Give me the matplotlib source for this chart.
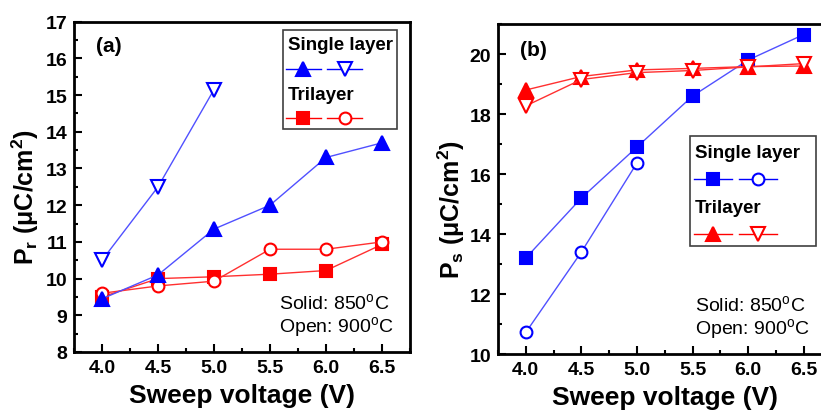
import numpy as np
import matplotlib.pyplot as plt
from matplotlib.lines import Line2D
from matplotlib.patches import Rectangle
from matplotlib.ticker import MultipleLocator

plt.rcParams['font.family'] = ['Liberation Sans', 'DejaVu Sans']
plt.rcParams['mathtext.fontset'] = 'custom'
plt.rcParams['mathtext.rm'] = 'Liberation Sans'
plt.rcParams['mathtext.bf'] = 'Liberation Sans:bold'

# sweep voltage (V)
volt = [4.0, 4.5, 5.0, 5.5, 6.0, 6.5]
volt_short = [4.0, 4.5, 5.0]

# (a) remanent polarization Pr (uC/cm2)
pr_single_850 = [9.45, 10.1, 11.35, 12.0, 13.3, 13.7]
pr_single_900 = [10.5, 12.5, 15.15]
pr_tri_850 = [9.5, 10.0, 10.05, 10.12, 10.22, 10.93]
pr_tri_900 = [9.6, 9.8, 9.93, 10.8, 10.8, 11.0]

# (b) saturation polarization Ps (uC/cm2)
ps_single_850 = [13.2, 15.2, 16.9, 18.6, 19.8, 20.65]
ps_single_900 = [10.72, 13.4, 16.37]
ps_tri_850 = [18.8, 19.25, 19.47, 19.52, 19.58, 19.6]
ps_tri_900 = [18.27, 19.15, 19.38, 19.45, 19.57, 19.68]

blue = '#0000ff'
red = '#ff0000'
line_blue = '#5050ff'
line_red = '#ff3030'

W, H = 821, 414
fig = plt.figure(figsize=(W / 100, H / 100), dpi=100)
ax1 = fig.add_axes([74 / W, 1 - 353 / H, 336 / W, 330.3 / H])
ax2 = fig.add_axes([498 / W, 1 - 355 / H, 333.6 / W, 330 / H])


def style(ax, ylim, major, minor):
    ax.set_xlim(3.75, 6.75)
    ax.set_ylim(*ylim)
    ax.xaxis.set_major_locator(MultipleLocator(0.5))
    ax.xaxis.set_minor_locator(MultipleLocator(0.25))
    ax.yaxis.set_major_locator(MultipleLocator(major))
    ax.yaxis.set_minor_locator(MultipleLocator(minor))
    ax.xaxis.set_major_formatter(plt.FormatStrFormatter('%.1f'))
    ax.tick_params(which='both', direction='in', width=1.5, labelsize=14)
    ax.tick_params(which='major', length=6, pad=5)
    ax.tick_params(which='minor', length=3)
    for lab in ax.get_xticklabels() + ax.get_yticklabels():
        lab.set_fontweight('bold')
    for s in ax.spines.values():
        s.set_linewidth(2)
    ax.set_xlabel('Sweep voltage (V)', fontsize=19, fontweight='bold', labelpad=5)


def series(ax, x, y, marker, color, lcolor, filled, ms):
    ax.plot(x, y, color=lcolor, lw=1.0, marker=marker, ms=ms,
            mfc=color if filled else 'white', mec=color, mew=1.5, zorder=3)


def legend_box(ax, x0, x1, y0, y1, rows):
    ax.add_patch(Rectangle((x0, y0), x1 - x0, y1 - y0, transform=ax.transAxes,
                           fill=False, ec='#404040', lw=1.2, zorder=5))
    h = y1 - y0
    for i, (label, color, m1, m2, ms1, ms2) in enumerate(rows):
        ty = y1 - h * (0.15 + 0.5 * i)
        ly = y1 - h * (0.39 + 0.5 * i)
        ax.text(x0 + 0.015, ty, label, transform=ax.transAxes, fontsize=13.5,
                fontweight='bold', va='center', ha='left', zorder=6)
        w = x1 - x0
        for (a, b), m, ms, filled in [((0.03, 0.33), m1, ms1, True), ((0.39, 0.69), m2, ms2, False)]:
            ax.add_line(Line2D([x0 + a * w, x0 + b * w], [ly, ly], transform=ax.transAxes,
                               color=color, lw=1.0, zorder=6))
            ax.add_line(Line2D([x0 + (a + b) / 2 * w], [ly], transform=ax.transAxes,
                               marker=m, ms=ms, color=color, mfc=color if filled else 'white',
                               mec=color, mew=1.5, zorder=7))


# panel (a)
style(ax1, (8, 17), 1, 0.5)
series(ax1, volt, pr_tri_850, 's', red, line_red, True, 8)
series(ax1, volt, pr_tri_900, 'o', red, line_red, False, 8.5)
series(ax1, volt, pr_single_850, '^', blue, line_blue, True, 10)
series(ax1, volt_short, pr_single_900, 'v', blue, line_blue, False, 10)
ax1.set_ylabel(r'P$_\mathbf{r}$ (μC/cm$^\mathbf{2}$)', fontsize=18, fontweight='bold', va='center')
ax1.yaxis.set_label_coords(-0.146, 0.472)
ax1.text(0.065, 0.91, '(a)', transform=ax1.transAxes, fontsize=15, fontweight='bold')
legend_box(ax1, 0.622, 0.961, 0.675, 0.975,
           [('Single layer', blue, '^', 'v', 10, 10), ('Trilayer', red, 's', 'o', 8, 8.5)])
ax1.text(0.61, 0.13, 'Solid: 850$^\\mathrm{o}$C', transform=ax1.transAxes, fontsize=14)
ax1.text(0.61, 0.06, 'Open: 900$^\\mathrm{o}$C', transform=ax1.transAxes, fontsize=14)

# panel (b)
style(ax2, (10, 21), 2, 1)
series(ax2, volt, ps_single_850, 's', blue, line_blue, True, 8)
series(ax2, volt_short, ps_single_900, 'o', blue, line_blue, False, 8.5)
series(ax2, volt, ps_tri_850, '^', red, line_red, True, 10)
series(ax2, volt, ps_tri_900, 'v', red, line_red, False, 10)
ax2.set_ylabel(r'P$_\mathbf{s}$ (μC/cm$^\mathbf{2}$)', fontsize=18, fontweight='bold', va='center')
ax2.yaxis.set_label_coords(-0.141, 0.44)
ax2.text(0.065, 0.905, '(b)', transform=ax2.transAxes, fontsize=15, fontweight='bold')
legend_box(ax2, 0.576, 0.953, 0.327, 0.661,
           [('Single layer', blue, 's', 'o', 8, 8.5), ('Trilayer', red, '^', 'v', 10, 10)])
ax2.text(0.59, 0.13, 'Solid: 850$^\\mathrm{o}$C', transform=ax2.transAxes, fontsize=14)
ax2.text(0.59, 0.06, 'Open: 900$^\\mathrm{o}$C', transform=ax2.transAxes, fontsize=14)

fig.savefig('out.png', dpi=100)
